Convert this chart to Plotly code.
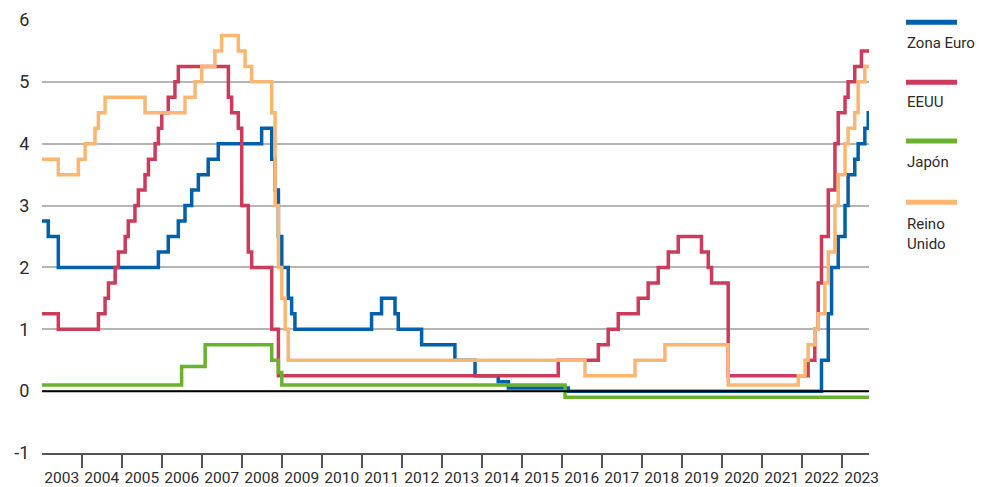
import plotly.graph_objects as go

# Official central bank rates (%), monthly; each date is the month of a change
euro_fechas = ["2003-01", "2003-03", "2003-06", "2005-12", "2006-03", "2006-06", "2006-08",
               "2006-10", "2006-12", "2007-03", "2007-06", "2008-07", "2008-10", "2008-11",
               "2008-12", "2009-01", "2009-03", "2009-04", "2009-05", "2011-04", "2011-07",
               "2011-11", "2011-12", "2012-07", "2013-05", "2013-11", "2014-06", "2014-09",
               "2016-03", "2022-07", "2022-09", "2022-10", "2022-12", "2023-02", "2023-03",
               "2023-05", "2023-06", "2023-08", "2023-09", "2023-10"]
euro_tipos = [2.75, 2.5, 2.0, 2.25, 2.5, 2.75, 3.0,
              3.25, 3.5, 3.75, 4.0, 4.25, 3.75, 3.25,
              2.5, 2.0, 1.5, 1.25, 1.0, 1.25, 1.5,
              1.25, 1.0, 0.75, 0.5, 0.25, 0.15, 0.05,
              0.0, 0.5, 1.25, 2.0, 2.5, 3.0, 3.5,
              3.75, 4.0, 4.25, 4.5, 4.5]

us_fechas = ["2003-01", "2003-06", "2004-06", "2004-08", "2004-09", "2004-11", "2004-12",
             "2005-02", "2005-03", "2005-05", "2005-06", "2005-08", "2005-09", "2005-11",
             "2005-12", "2006-01", "2006-03", "2006-05", "2006-06", "2007-09", "2007-10",
             "2007-12", "2008-01", "2008-03", "2008-04", "2008-10", "2008-12", "2015-12",
             "2016-12", "2017-03", "2017-06", "2017-12", "2018-03", "2018-06", "2018-09",
             "2018-12", "2019-07", "2019-09", "2019-10", "2020-03", "2022-03", "2022-05",
             "2022-06", "2022-07", "2022-09", "2022-11", "2022-12", "2023-02", "2023-03",
             "2023-05", "2023-07", "2023-10"]
us_tipos = [1.25, 1.0, 1.25, 1.5, 1.75, 2.0, 2.25,
            2.5, 2.75, 3.0, 3.25, 3.5, 3.75, 4.0,
            4.25, 4.5, 4.75, 5.0, 5.25, 4.75, 4.5,
            4.25, 3.0, 2.25, 2.0, 1.0, 0.25, 0.5,
            0.75, 1.0, 1.25, 1.5, 1.75, 2.0, 2.25,
            2.5, 2.25, 2.0, 1.75, 0.25, 0.5, 1.0,
            1.75, 2.5, 3.25, 4.0, 4.5, 4.75, 5.0,
            5.25, 5.5, 5.5]

jp_fechas = ["2003-01", "2006-07", "2007-02", "2008-10", "2008-12", "2009-01", "2016-02", "2023-10"]
jp_tipos = [0.1, 0.4, 0.75, 0.5, 0.3, 0.1, -0.1, -0.1]

uk_fechas = ["2003-01", "2003-06", "2003-12", "2004-02", "2004-05", "2004-06", "2004-08",
             "2005-08", "2006-08", "2006-11", "2007-01", "2007-05", "2007-07", "2007-12",
             "2008-02", "2008-04", "2008-10", "2008-11", "2008-12", "2009-01", "2009-02",
             "2009-03", "2016-08", "2017-11", "2018-08", "2020-03", "2021-12", "2022-02",
             "2022-03", "2022-05", "2022-06", "2022-08", "2022-09", "2022-11", "2022-12",
             "2023-02", "2023-03", "2023-05", "2023-06", "2023-08", "2023-10"]
uk_tipos = [3.75, 3.5, 3.75, 4.0, 4.25, 4.5, 4.75,
            4.5, 4.75, 5.0, 5.25, 5.5, 5.75, 5.5,
            5.25, 5.0, 4.5, 3.0, 2.0, 1.5, 1.0,
            0.5, 0.25, 0.5, 0.75, 0.1, 0.25, 0.5,
            0.75, 1.0, 1.25, 1.75, 2.25, 3.0, 3.5,
            4.0, 4.25, 4.5, 5.0, 5.25, 5.25]

nombres = ["Zona Euro", "EEUU", "Japón", "Reino<br>Unido"]
colores = ["#0060A9", "#CC3A5C", "#68B32E", "#FBB672"]
series = [(euro_fechas, euro_tipos), (us_fechas, us_tipos),
          (jp_fechas, jp_tipos), (uk_fechas, uk_tipos)]

y_ticks = [-1, 0, 1, 2, 3, 4, 5, 6]
y_labels = ["-1", "0", "1", "2", "3", "4", "5", "6"]

FONT = "Roboto, Liberation Sans, sans-serif"
TXT = "#2b2b2b"

fig = go.Figure()
for (fechas, tipos), nombre, color in zip(series, nombres, colores):
    assert len(fechas) == len(tipos), nombre
    fig.add_trace(go.Scatter(
        x=fechas, y=tipos, mode="lines", name=nombre,
        line=dict(color=color, width=3.5, shape="hv"),
        showlegend=False
    ))

# zero line drawn over the series
fig.add_shape(type="line", xref="paper", x0=0, x1=1, yref="y", y0=0, y1=0,
              line=dict(color="black", width=2), layer="above")

# legend: colour bar above each label
leg_line_y = [0.995, 0.856, 0.7205, 0.579]
leg_text_y = [0.948, 0.811, 0.6725, 0.5065]
for nombre, color, ly, ty in zip(nombres, colores, leg_line_y, leg_text_y):
    fig.add_shape(type="line", xref="paper", yref="paper", x0=1.0447, x1=1.1064,
                  y0=ly, y1=ly, line=dict(color=color, width=5))
    fig.add_annotation(xref="paper", yref="paper", x=1.044, y=ty, text=nombre,
                       showarrow=False, xanchor="left", yanchor="middle", align="left",
                       font=dict(family=FONT, size=15, color=TXT))

# page body has an 8px margin, so the figure is 8px smaller and margins shifted
fig.update_layout(
    width=978, height=479,
    margin=dict(l=34, r=117, t=12, b=34, autoexpand=False),
    paper_bgcolor="white", plot_bgcolor="white",
    font=dict(family=FONT, color=TXT),
    xaxis=dict(
        type="date", range=["2003-01-03", "2023-09-08"],
        dtick="M12", tick0="2003-01-01", tickformat="%Y", ticklabelmode="period",
        tickangle=0, automargin=False,
        showgrid=False, zeroline=False,
        showline=True, linecolor="#555555", linewidth=1.5,
        ticks="outside", ticklen=13, tickwidth=1.5, tickcolor="#555555",
        ticklabelstandoff=-3,
        tickfont=dict(size=15.5, color=TXT),
    ),
    yaxis=dict(
        range=[-1, 6], tickvals=y_ticks, ticktext=y_labels, automargin=False,
        showgrid=True, gridcolor="#b5b5b5", gridwidth=1.5,
        zeroline=False, showline=False,
        ticks="outside", ticklen=8, tickcolor="rgba(0,0,0,0)",
        tickfont=dict(size=18, color=TXT),
    ),
)

fig.write_html("out.html")
